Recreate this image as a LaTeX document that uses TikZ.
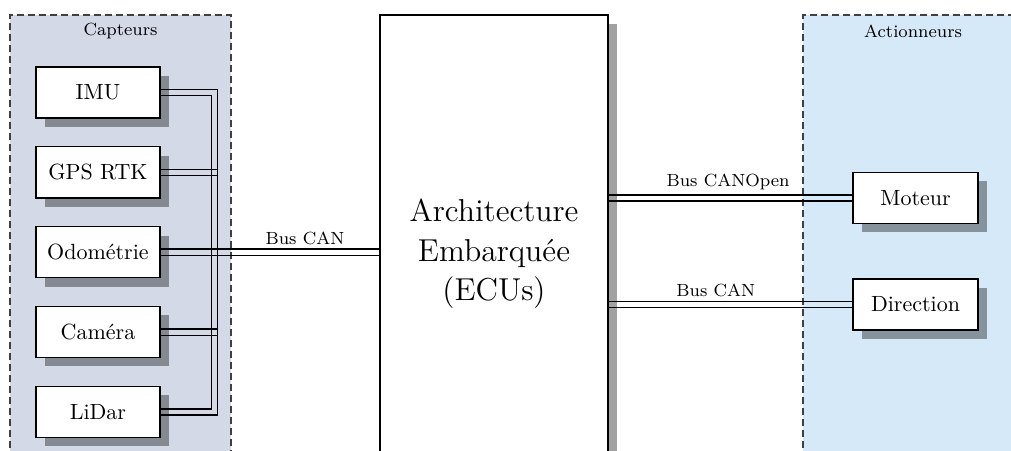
\documentclass[tikz,border=0pt]{standalone}
\usepackage{fontspec}
\usepackage{tikz}
\usetikzlibrary{calc,positioning,shadows}
\definecolor{capteursbg}{RGB}{212,217,232}
\definecolor{actionbg}{RGB}{214,233,248}

\begin{document}
\begin{tikzpicture}[
		box/.style={draw, semithick, fill=white, minimum width=1.98cm, minimum height=0.815cm,
			drop shadow={shadow xshift=4pt, shadow yshift=-4pt, fill=black, opacity=.37}},
		zone/.style={draw=black!75, semithick, dash pattern=on 3pt off 2pt},
		bus/.style={semithick},
		buslabel/.style={font=\footnotesize, above},
		node distance=0.44cm
	]
		%%%%% START %%%%%
		
		\useasboundingbox (0, 0) rectangle (16.15, 7.204);
		\clip (0, 0) rectangle (16.15, 7.204);
		
		\draw[zone, fill=capteursbg] (0.16, -1) rectangle (3.69, 6.965);
		\draw[zone, fill=actionbg] (12.827, -1) rectangle (16.5, 6.965);
		\node[font=\footnotesize] (capteurs) at (1.925, 6.71) {Capteurs};
		\node[font=\footnotesize] (actionneurs) at (14.585, 6.70) {Actionneurs};
		
		\node[box] (imu) at (1.565, 5.727) {IMU};
		\node[box, below=of imu] (gps) {GPS RTK};
		\node[box, below=of gps] (odo) {Odométrie};
		\node[box, below=of odo] (cam) {Caméra};
		\node[box, below=of cam] (lidar) {LiDar};
		
		\node[box, minimum width=3.642cm, minimum height=7.63cm, align=center, font=\Large] (ecu) at (7.891, 3.15) {Architecture\\Embarquée\\(ECUs)};
		
		\node[box, minimum width=2cm] (moteur) at (14.625, 4.042) {Moteur};
		\node[box, minimum width=2cm] (direction) at (14.625, 2.34) {Direction};
		
		\coordinate[right=0.86cm of odo.east] (bus);
		
		\foreach \s/\t in {-1/1, 1/-1} {
			\draw[bus] ($(imu.east)+(0, \s*1.4pt)$) -| ($(bus)+(\s*1.4pt, 0)$);
			\draw[bus] ($(gps.east)+(0, \s*1.4pt)$) -- ($(gps.east -| bus)+(1.4pt, \s*1.4pt)$);
			\draw[bus] ($(odo.east)+(0, \s*1.4pt)$) -- ($(odo.east -| ecu.west)+(0, \s*1.4pt)$);
			\draw[bus] ($(cam.east)+(0, \s*1.4pt)$) -- ($(cam.east -| bus)+(1.4pt, \s*1.4pt)$);
			\draw[bus] ($(lidar.east)+(0, \s*1.4pt)$) -| ($(bus)+(\t*1.4pt, 0)$);
			\draw[bus] ($(moteur.west -| ecu.east)+(0, \s*1.4pt)$) -- ($(moteur.west)+(0, \s*1.4pt)$);
			\draw[bus] ($(direction.west -| ecu.east)+(0, \s*1.4pt)$) -- ($(direction.west)+(0, \s*1.4pt)$);
		}
		
		\path (odo.east) -- (odo.east -| ecu.west) node[buslabel, pos=.66] (cancapt) {Bus CAN};
		\path (moteur.west -| ecu.east) -- (moteur.west) node[buslabel, pos=.49] (canopen) {Bus CANOpen};
		\path (direction.west -| ecu.east) -- (direction.west) node[buslabel, pos=.44] (candir) {Bus CAN};
		
		%%%%% END %%%%%
	\end{tikzpicture}
\end{document}
